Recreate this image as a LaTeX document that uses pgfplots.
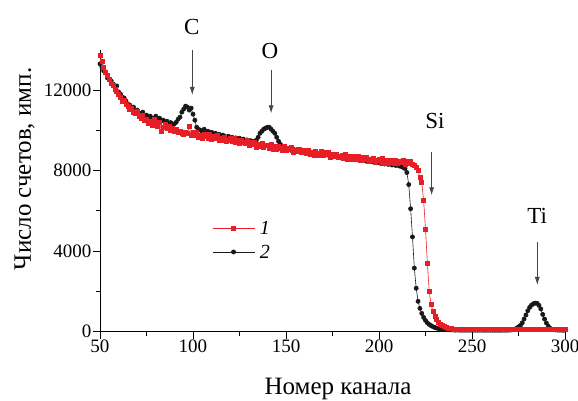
\documentclass[border=0pt]{standalone}
\usepackage{fontspec}
\setmainfont{Liberation Serif}
\usepackage{pgfplots}
\pgfplotsset{compat=1.18}
\usetikzlibrary{arrows.meta}
\definecolor{sred}{RGB}{232,30,38}
\definecolor{sblk}{RGB}{25,25,25}
\definecolor{arr}{RGB}{70,70,70}
\begin{document}
\begin{tikzpicture}
\path[use as bounding box] (-100pt,-69.5pt) rectangle (478pt,331.5pt);
\begin{axis}[
  at={(0pt,0pt)}, anchor=south west,
  scale only axis, width=465pt, height=281.75pt,
  xmin=50, xmax=300, ymin=0, ymax=14000,
  clip=false,
  axis x line*=bottom, axis y line*=left,
  axis line style={-, line width=0.9pt, black},
  xtick={50,100,...,300}, ytick={0,4000,8000,12000},
  minor x tick num=1, minor y tick num=1,
  tick align=outside, major tick length=7pt, minor tick length=4pt,
  tick style={line width=0.8pt, black},
  scaled y ticks=false,
  /pgf/number format/1000 sep={},
  /pgf/number format/assume math mode=true,
  tick label style={font=\fontsize{19}{22}\selectfont, inner sep=1.5pt},
  xlabel={Номер канала}, ylabel={Число счетов, имп.},
  label style={font=\fontsize{25}{30}\selectfont},
  xlabel style={at={(axis description cs:0.512,-0.204)}, anchor=center},
  ylabel style={at={(axis description cs:-0.162,0.577)}, anchor=center},
  legend style={draw=none, fill=none, at={(axis description cs:0.241,0.393)}, anchor=north west, inner sep=0pt, row sep=10pt, column sep=5pt, nodes={inner sep=0pt, text height=14pt, text depth=0pt, font=\fontsize{20}{24}\selectfont\itshape}},
  legend cell align=left,
  reverse legend,
  legend image code/.code={\draw[mark repeat=2,mark phase=2,#1] plot coordinates {(0pt,0pt) (21pt,0pt) (42pt,0pt)};},
]
\addplot[sblk, line width=0.6pt, mark=*, mark size=2.1pt, mark options={solid, fill=sblk}] coordinates {
(50,13300) (51,13150) (52,12950) (53,12900) (54,12600) (55,12500) (56,12450) (57,12300) (58,12150) (59,12200)
(60,11900) (61,11800) (62,11650) (63,11600) (64,11450) (65,11300) (66,11250) (67,11100) (68,11150) (69,10950)
(70,11000) (71,10850) (72,10800) (73,10900) (74,10700) (75,10750) (76,10650) (77,10700) (78,10600) (79,10550)
(80,10700) (81,10500) (82,10600) (83,10450) (84,10500) (85,10400) (86,10450) (87,10350) (88,10380) (89,10300)
(90,10320) (91,10400) (92,10550) (93,10650) (94,10900) (95,11050) (96,11200) (97,11150) (98,11000) (99,11100)
(100,10800) (101,10500) (102,10150) (103,10050) (104,10000) (105,9950) (106,10050) (107,9900) (108,9950) (109,9850)
(110,9900) (111,9800) (112,9850) (113,9750) (114,9800) (115,9700) (116,9760) (117,9700) (118,9650) (119,9700)
(120,9600) (121,9650) (122,9580) (123,9620) (124,9550) (125,9600) (126,9500) (127,9560) (128,9480) (129,9520)
(130,9450) (131,9480) (132,9430) (133,9450) (134,9500) (135,9650) (136,9850) (137,9950) (138,10050) (139,10100)
(140,10150) (141,10150) (142,10050) (143,9950) (144,9850) (145,9650) (146,9450) (147,9300) (148,9200) (149,9180)
(150,9100) (151,9050) (152,9120) (153,8990) (154,9060) (155,8980) (156,9040) (157,8950) (158,9000) (159,8920)
(160,8960) (161,8900) (162,8950) (163,8870) (164,8910) (165,8850) (166,8880) (167,8820) (168,8860) (169,8800)
(170,8850) (171,8780) (172,8820) (173,8750) (174,8790) (175,8720) (176,8760) (177,8690) (178,8720) (179,8650)
(180,8700) (181,8630) (182,8660) (183,8600) (184,8640) (185,8580) (186,8610) (187,8550) (188,8580) (189,8520)
(190,8560) (191,8500) (192,8530) (193,8470) (194,8500) (195,8440) (196,8480) (197,8420) (198,8450) (199,8380)
(200,8420) (201,8350) (202,8390) (203,8320) (204,8360) (205,8300) (206,8340) (207,8270) (208,8310) (209,8250)
(210,8280) (211,8220) (212,8200) (213,8150) (214,8100) (215,7900) (216,7300) (217,6100) (218,4700) (219,3150)
(220,2150) (221,1500) (222,1150) (223,900) (224,700) (225,550) (226,430) (227,350) (228,290) (229,240)
(230,200) (231,170) (232,150) (233,130) (234,115) (235,105) (236,95) (237,90) (238,85) (239,80)
(240,75) (241,70) (242,72) (243,68) (244,70) (245,66) (246,70) (247,68) (248,72) (249,66)
(250,70) (251,68) (252,70) (253,66) (254,68) (255,70) (256,64) (257,68) (258,66) (259,70)
(260,66) (261,68) (262,64) (263,66) (264,68) (265,64) (266,66) (267,70) (268,66) (269,68)
(270,72) (271,76) (272,85) (273,110) (274,160) (275,230) (276,300) (277,430) (278,620) (279,820)
(280,1030) (281,1200) (282,1310) (283,1380) (284,1410) (285,1400) (286,1300) (287,1120) (288,850) (289,620)
(290,420) (291,260) (292,160) (293,110) (294,90) (295,78) (296,72) (297,70) (298,68) (299,66) (300,66)
};
\addlegendentry{2}
\addplot[sred, line width=0.6pt, mark=square*, mark size=2pt, mark options={solid, fill=sred}] coordinates {
(50,13700) (51,13450) (52,13150) (53,12900) (54,12750) (55,12550) (56,12350) (57,12250) (58,12050) (59,11950)
(60,11800) (61,11650) (62,11450) (63,11500) (64,11300) (65,11200) (66,11050) (67,11100) (68,10900) (69,10850)
(70,10950) (71,10700) (72,10600) (73,10750) (74,10500) (75,10550) (76,10350) (77,10450) (78,10250) (79,10550)
(80,10300) (81,10200) (82,10400) (83,9950) (84,10150) (85,10300) (86,10100) (87,10200) (88,10000) (89,10100)
(90,9950) (91,10050) (92,9900) (93,9950) (94,9850) (95,9800) (96,9900) (97,9850) (98,10200) (99,9750)
(100,9880) (101,9740) (102,9900) (103,9640) (104,9760) (105,9580) (106,9800) (107,9690) (108,9620) (109,9790)
(110,9560) (111,9700) (112,9610) (113,9740) (114,9480) (115,9620) (116,9510) (117,9640) (118,9470) (119,9520)
(120,9580) (121,9440) (122,9600) (123,9380) (124,9500) (125,9350) (126,9520) (127,9400) (128,9330) (129,9480)
(130,9250) (131,9390) (132,9300) (133,9420) (134,9170) (135,9300) (136,9200) (137,9330) (138,9150) (139,9240)
(140,9260) (141,9110) (142,9280) (143,9070) (144,9200) (145,9040) (146,9220) (147,9090) (148,9020) (149,9180)
(150,8980) (151,9110) (152,9030) (153,9140) (154,8890) (155,9020) (156,8930) (157,9060) (158,8880) (159,8960)
(160,8990) (161,8850) (162,9010) (163,8800) (164,8920) (165,8780) (166,8950) (167,8840) (168,8770) (169,8930)
(170,8760) (171,8880) (172,8800) (173,8900) (174,8660) (175,8790) (176,8700) (177,8820) (178,8640) (179,8730)
(180,8760) (181,8620) (182,8790) (183,8580) (184,8700) (185,8560) (186,8730) (187,8620) (188,8550) (189,8720)
(190,8530) (191,8660) (192,8580) (193,8680) (194,8450) (195,8580) (196,8500) (197,8620) (198,8430) (199,8520)
(200,8560) (201,8420) (202,8590) (203,8380) (204,8500) (205,8370) (206,8530) (207,8430) (208,8360) (209,8520)
(210,8340) (211,8460) (212,8390) (213,8490) (214,8330) (215,8440) (216,8350) (217,8450) (218,8300) (219,8280)
(220,8150) (221,8000) (222,7650) (223,7400) (224,6500) (225,5100) (226,3400) (227,2000) (228,1330) (229,1000)
(230,750) (231,600) (232,480) (233,380) (234,310) (235,250) (236,210) (237,180) (238,160) (239,140)
(240,130) (241,110) (242,100) (243,115) (244,95) (245,105) (246,100) (247,112) (248,96) (249,104)
(250,108) (251,98) (252,102) (253,110) (254,94) (255,100) (256,106) (257,98) (258,104) (259,100)
(260,96) (261,108) (262,102) (263,98) (264,104) (265,100) (266,106) (267,96) (268,102) (269,100)
(270,104) (271,98) (272,106) (273,100) (274,102) (275,96) (276,104) (277,100) (278,108) (279,98)
(280,102) (281,100) (282,104) (283,96) (284,100) (285,106) (286,98) (287,102) (288,100) (289,104)
(290,98) (291,100) (292,102) (293,96) (294,104) (295,100) (296,98) (297,102) (298,100) (299,104) (300,100)
};
\addlegendentry{1}
\node[font=\fontsize{23}{27}\selectfont, anchor=base] at (axis cs:99.3,14733) {C};
\draw[arr, line width=0.8pt, -{Latex[length=8pt,width=5pt]}] (axis cs:99.6,13977) -- (axis cs:99.6,11752);
\node[font=\fontsize{23}{27}\selectfont, anchor=base] at (axis cs:141.4,13575) {O};
\draw[arr, line width=0.8pt, -{Latex[length=8pt,width=5pt]}] (axis cs:142.0,12994) -- (axis cs:142.0,10842);
\node[font=\fontsize{23}{27}\selectfont, anchor=base] at (axis cs:230.1,10097) {Si};
\draw[arr, line width=0.8pt, -{Latex[length=8pt,width=5pt]}] (axis cs:228.3,8934) -- (axis cs:228.3,6770);
\node[font=\fontsize{23}{27}\selectfont, anchor=base] at (axis cs:285.1,5376) {Ti};
\draw[arr, line width=0.8pt, -{Latex[length=8pt,width=5pt]}] (axis cs:285.1,4462) -- (axis cs:285.1,2311);
\end{axis}
\end{tikzpicture}
\end{document}
